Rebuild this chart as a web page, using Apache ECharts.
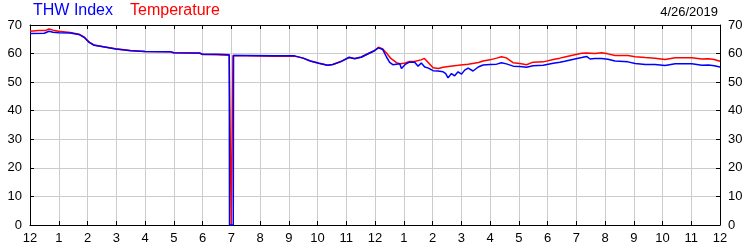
<!DOCTYPE html>
<html>
<head>
<meta charset="utf-8">
<script src="https://cdn.jsdelivr.net/npm/echarts@6/dist/echarts.min.js"></script>
<style>html,body{margin:0;padding:0;background:#fff}#c{width:750px;height:250px}</style>
</head>
<body>
<div id="c"></div>
<script>
const tickLabels = ["12","1","2","3","4","5","6","7","8","9","10","11","12","1","2","3","4","5","6","7","8","9","10","11","12"];
const yTicks = [0,10,20,30,40,50,60,70];

const tempHours = [0,0.3,0.55,0.66,0.8,1.0,1.4,1.7,1.88,2.06,2.23,2.6,2.98,3.5,4.0,4.9,5.0,5.9,6.0,6.5,6.93,7.0,7.06,7.5,8.5,9.2,9.5,9.75,10.05,10.35,10.53,10.8,11.1,11.29,11.52,11.8,11.98,12.12,12.27,12.4,12.55,12.75,12.9,13.05,13.2,13.4,13.6,13.72,13.85,14.02,14.2,14.37,14.55,14.9,15.24,15.6,15.76,16.0,16.23,16.4,16.57,16.8,17.04,17.27,17.5,17.85,18.2,18.43,18.6,18.95,19.19,19.36,19.65,19.88,20.1,20.35,20.8,21.05,21.4,21.74,22.09,22.44,23.02,23.37,23.6,23.8,24.0];
const tempValues = [67.8,68.1,68.1,68.6,68.2,67.8,67.4,66.8,65.8,64.0,63.0,62.3,61.7,61.1,60.7,60.6,60.3,60.1,59.7,59.6,59.4,0,59.3,59.2,59.1,59.1,58.4,57.4,56.6,55.9,56.2,57.2,58.6,58.3,58.8,60.2,61.0,62.2,61.6,60.2,58.3,56.8,56.4,56.7,57.2,57.3,57.8,58.3,56.9,55.0,54.8,55.2,55.5,55.9,56.3,56.9,57.4,57.8,58.4,58.9,58.5,56.8,56.5,56.1,57.0,57.1,57.9,58.4,58.8,59.6,60.1,60.2,60.0,60.3,59.9,59.3,59.3,58.9,58.6,58.4,57.9,58.5,58.5,58.1,58.2,57.9,57.3];

const thwHours = [0,0.5,0.66,0.8,1.0,1.4,1.7,1.88,2.06,2.23,2.6,2.98,3.5,4.0,4.9,5.0,5.9,6.0,6.5,6.93,6.94,7.07,7.08,7.5,8.5,9.2,9.5,9.75,10.05,10.35,10.53,10.8,11.1,11.29,11.52,11.8,11.98,12.12,12.27,12.4,12.51,12.62,12.86,12.92,13.05,13.2,13.38,13.5,13.61,13.73,13.84,14.02,14.19,14.37,14.46,14.54,14.66,14.77,14.89,15.01,15.12,15.24,15.41,15.59,15.76,16.0,16.23,16.4,16.57,16.81,17.04,17.27,17.5,17.85,18.2,18.43,18.6,18.95,19.19,19.36,19.48,19.65,19.88,20.1,20.35,20.8,21.05,21.4,21.74,22.09,22.44,23.02,23.37,23.6,23.8,24.0];
const thwValues = [67.0,67.1,67.8,67.5,67.3,67.2,66.7,65.7,63.9,62.9,62.3,61.6,61.0,60.7,60.6,60.3,60.2,59.8,59.8,59.6,0,0,59.3,59.3,59.2,59.2,58.4,57.4,56.6,55.9,56.2,57.1,58.7,58.2,58.7,60.1,61.0,62.0,61.4,58.8,56.9,56.1,56.4,54.8,56.2,57.0,57.0,55.6,56.7,55.3,55.0,54.0,53.9,53.6,53.0,51.5,53.0,52.2,53.6,52.8,54.2,54.9,53.9,55.3,56.0,56.2,56.3,56.8,56.4,55.6,55.5,55.2,55.7,55.9,56.6,57.0,57.3,58.1,58.6,59.0,58.1,58.3,58.3,58.0,57.4,57.1,56.5,56.2,56.2,55.8,56.4,56.4,55.9,56.0,55.7,55.3];

const dateLabel = "4/26/2019";

const chart = echarts.init(document.getElementById('c'), null, {renderer:'canvas'});
const font = 'Arial, "Liberation Sans", sans-serif';
const axisCommon = {
  min: 0, axisLine: {show:true, onZero:false, lineStyle:{color:'#000', width:1}},
  axisTick: {show:true, inside:true, length:4, lineStyle:{color:'#000'}},
};
chart.setOption({
  animation: false,
  backgroundColor: '#fff',
  grid: {left: 30, right: 30, top: 25, bottom: 25, containLabel: false},
  graphic: [
    {type:'text', left: 33, top: 3, style:{text:'THW Index', fill:'#0000FF', font:'16px ' + font}},
    {type:'text', left: 130, top: 3, style:{text:'Temperature', fill:'#FF0000', font:'16px ' + font}},
    {type:'text', right: 32, top: 6, style:{text:dateLabel, fill:'#000', font:'13px ' + font}}
  ],
  xAxis: [
    Object.assign({}, axisCommon, {type:'value', max:24, interval:1, position:'bottom',
      axisLabel:{show:true, color:'#000', fontSize:13, fontFamily:font, margin:7, formatter:(v)=>tickLabels[Math.round(v)]},
      splitLine:{show:true, lineStyle:{color:'#CCCCCC', width:1}}}),
    Object.assign({}, axisCommon, {type:'value', max:24, interval:1, position:'top',
      axisLabel:{show:false}, splitLine:{show:false}})
  ],
  yAxis: [
    Object.assign({}, axisCommon, {type:'value', max:70, interval:10, position:'left',
      axisLabel:{show:true, color:'#000', fontSize:13, fontFamily:font, margin:8, formatter:(v)=>String(yTicks[Math.round(v/10)])},
      splitLine:{show:true, lineStyle:{color:'#CCCCCC', width:1}}}),
    Object.assign({}, axisCommon, {type:'value', max:70, interval:10, position:'right',
      axisLabel:{show:true, color:'#000', fontSize:13, fontFamily:font, margin:8, formatter:(v)=>String(yTicks[Math.round(v/10)])},
      splitLine:{show:false}})
  ],
  series: [
    {name:'Temperature', type:'line', xAxisIndex:0, yAxisIndex:0, showSymbol:false, symbol:'none',
      lineStyle:{color:'#FF0000', width:1.5}, itemStyle:{color:'#FF0000'},
      data: tempHours.map((h,i)=>[h, tempValues[i]])},
    {name:'THW Index', type:'line', xAxisIndex:0, yAxisIndex:0, showSymbol:false, symbol:'none',
      lineStyle:{color:'#0000FF', width:1.5}, itemStyle:{color:'#0000FF'},
      data: thwHours.map((h,i)=>[h, thwValues[i]])}
  ]
});
</script>
</body>
</html>
